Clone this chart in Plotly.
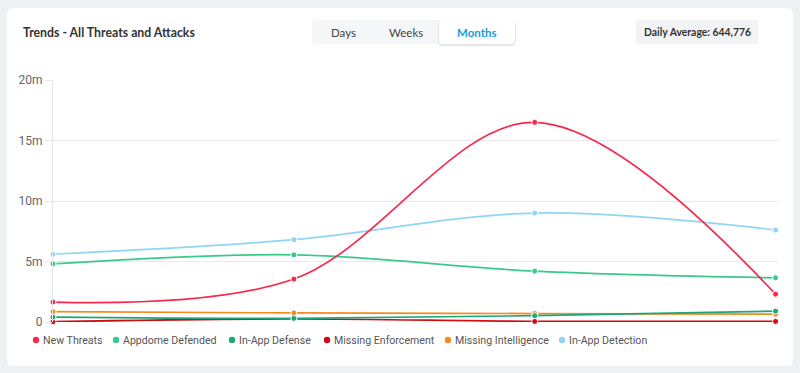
import plotly.graph_objects as go

# ---------------- data ----------------
months = ["Month 1", "Month 2", "Month 3", "Month 4"]
series_names = ["New Threats", "Appdome Defended", "In-App Defense",
                "Missing Enforcement", "Missing Intelligence", "In-App Detection"]
new_threats = [1.65e6, 3.55e6, 16.5e6, 2.3e6]
appdome_defended = [4.8e6, 5.55e6, 4.2e6, 3.65e6]
in_app_defense = [0.4e6, 0.3e6, 0.52e6, 0.9e6]
missing_enforcement = [0.03e6, 0.25e6, 0.05e6, 0.05e6]
missing_intelligence = [0.85e6, 0.75e6, 0.7e6, 0.65e6]
in_app_detection = [5.6e6, 6.8e6, 9.0e6, 7.6e6]
y_tickvals = [0, 5e6, 10e6, 15e6, 20e6]
y_ticktext = ["0", "5m", "10m", "15m", "20m"]
period_buttons = ["Days", "Weeks", "Months"]
daily_average = "Daily Average: 644,776"
title_text = "Trends - All Threats and Attacks"

values = [new_threats, appdome_defended, in_app_defense,
          missing_enforcement, missing_intelligence, in_app_detection]
colors = ["#f7284a", "#3ac98d", "#1ea67b", "#d20a12", "#f58a1f", "#8fd6f4"]

# ---------------- layout geometry (pixels) ----------------
W, H = 800, 373
L, R, T, B = 53, 22, 80, 51
PW, PH = W - L - R, H - T - B


def px(x):
    return (x - L) / PW


def py(y):
    return (H - B - y) / PH


def rrect(x0, y0, x1, y1, r):
    a, b, c, d = px(x0), px(x1), py(y0), py(y1)
    rx, ry = r / PW, r / PH
    return (f"M{a+rx},{c} L{b-rx},{c} Q{b},{c} {b},{c-ry} L{b},{d+ry} Q{b},{d} {b-rx},{d} "
            f"L{a+rx},{d} Q{a},{d} {a},{d+ry} L{a},{c-ry} Q{a},{c} {a+rx},{c} Z")


fig = go.Figure()

for i in reversed(range(len(series_names))):
    fig.add_trace(go.Scatter(
        x=months, y=values[i], name=series_names[i], mode="lines+markers",
        line=dict(color=colors[i], width=1.7, shape="spline", smoothing=1.0),
        marker=dict(color=colors[i], size=6, line=dict(color="white", width=1)),
        cliponaxis=False, showlegend=False,
    ))

shapes = []
# card
shapes.append(dict(type="path", xref="paper", yref="paper", layer="below",
                   path=rrect(7, 8, 793, 366, 6), fillcolor="white", line=dict(width=0)))
# button group
shapes.append(dict(type="path", xref="paper", yref="paper", layer="below",
                   path=rrect(312, 20, 515, 44, 4), fillcolor="#f4f6f7", line=dict(width=0)))
shapes.append(dict(type="path", xref="paper", yref="paper", layer="below",
                   path=rrect(438, 20, 516, 46, 5), fillcolor="#e3e7ea", line=dict(width=0)))
shapes.append(dict(type="path", xref="paper", yref="paper", layer="below",
                   path=rrect(439, 20, 515, 44, 4), fillcolor="white", line=dict(width=0)))
# daily average box
shapes.append(dict(type="path", xref="paper", yref="paper", layer="below",
                   path=rrect(636, 20, 758, 44, 3), fillcolor="#f1f3f5", line=dict(width=0)))

annotations = [
    dict(text=title_text, x=px(21), y=py(32), xref="paper", yref="paper",
         xanchor="left", yanchor="middle", showarrow=False,
         font=dict(family="Lato", size=12.3, color="#333333", weight="bold")),
    dict(text=daily_average, x=px(697), y=py(32), xref="paper", yref="paper",
         xanchor="center", yanchor="middle", showarrow=False,
         font=dict(family="Lato", size=10.4, color="#333333", weight="bold")),
]
btn_centers = [343, 406, 477]
for name, cx in zip(period_buttons, btn_centers):
    annotations.append(dict(text=name, x=px(cx), y=py(32), xref="paper", yref="paper",
                            xanchor="center", yanchor="middle", showarrow=False,
                            font=dict(family="Lato", size=11.5,
                                      color="#1a9ad6" if name == "Months" else "#444444",
                                      weight="bold" if name == "Months" else "normal")))

# legend (manual)
legend_x = [36, 116, 232, 327, 448, 562]
for name, col, lx in zip(series_names, colors, legend_x):
    shapes.append(dict(type="circle", xref="paper", yref="paper",
                       xsizemode="pixel", ysizemode="pixel",
                       xanchor=px(lx), yanchor=py(340),
                       x0=-3.2, x1=3.2, y0=-3.2, y1=3.2,
                       fillcolor=col, line=dict(width=0)))
    annotations.append(dict(text=name, x=px(lx + 5), y=py(340), xref="paper", yref="paper",
                            xanchor="left", yanchor="middle", showarrow=False,
                            font=dict(family="Roboto", size=10.6, color="#555555")))

fig.update_layout(
    width=W, height=H, margin=dict(l=L, r=R, t=T, b=B),
    paper_bgcolor="#edf1f4", plot_bgcolor="rgba(0,0,0,0)",
    shapes=shapes, annotations=annotations, showlegend=False,
    xaxis=dict(range=[0, 3.01], showgrid=False, showticklabels=False, zeroline=False,
               showline=False, ticks="", fixedrange=True),
    yaxis=dict(range=[0, 20e6], tickvals=y_tickvals, ticktext=y_ticktext,
               showgrid=True, gridcolor="#e9e9e9", gridwidth=1, zeroline=False,
               showline=True, linecolor="#e6e6e6", linewidth=1,
               ticks="outside", ticklen=7, tickcolor="#e6e6e6",
               tickfont=dict(family="Roboto", size=12, color="#666666")),
    font=dict(family="Roboto"),
)

fig.write_html("out.html", config={"displayModeBar": False},
               post_script="document.body.style.margin='0';document.body.style.background='#edf1f4';")
